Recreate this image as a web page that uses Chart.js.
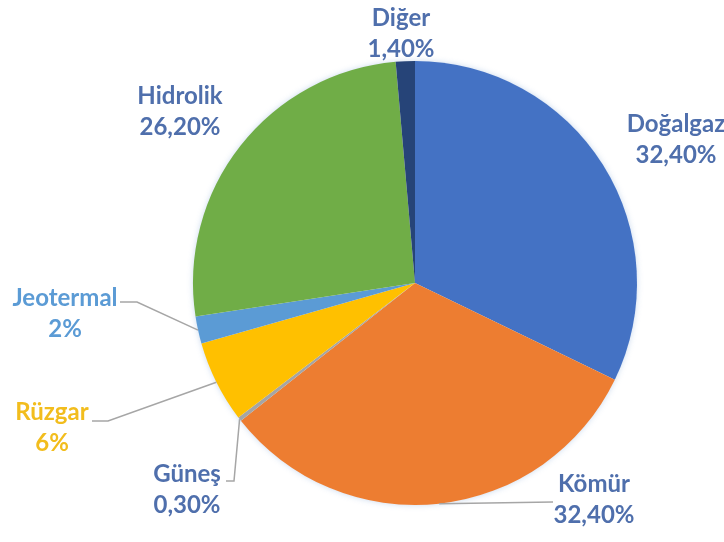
<!DOCTYPE html>
<html>
<head>
<meta charset="utf-8">
<script src="https://cdn.jsdelivr.net/npm/chart.js@4.4.1/dist/chart.umd.min.js"></script>
<style>
  html, body { margin: 0; padding: 0; background: #ffffff; }
  #wrap { width: 724px; height: 542px; position: relative; }
</style>
</head>
<body>
<div id="wrap"><canvas id="chart"></canvas></div>
<script>
// Elektrik üretiminde kaynak payları (%)
const kaynaklar = ['Doğalgaz', 'Kömür', 'Güneş', 'Rüzgar', 'Jeotermal', 'Hidrolik', 'Diğer'];
const paylar = [32.4, 32.4, 0.3, 6, 2, 26.2, 1.4];
const etiketler = ['32,40%', '32,40%', '0,30%', '6%', '2%', '26,20%', '1,40%'];
const renkler = ['#4472C4', '#ED7D31', '#A5A5A5', '#FFC000', '#5B9BD5', '#70AD47', '#264478'];

// etiket yerleşimi: metin merkezi, yazı rengi, kılavuz çizgisi kırılma noktası
const etiketAyar = [
  { x: 676, y: 124, renk: '#4F6FAC' },
  { x: 594, y: 484, renk: '#4F6FAC', cizgi: [553, 502] },
  { x: 187, y: 474, renk: '#4F6FAC', cizgi: [226, 481], dirsek: [234, 481] },
  { x: 52, y: 412, renk: '#F2BD1D', cizgi: [92, 421], dirsek: [108, 421] },
  { x: 65, y: 298, renk: '#5B9BD5', cizgi: [120, 302], dirsek: [137, 302] },
  { x: 180, y: 96, renk: '#4F6FAC' },
  { x: 401, y: 18, renk: '#4F6FAC' }
];
const satirAraligi = 31;

const golgePlugin = {
  id: 'golge',
  beforeDatasetsDraw(chart) {
    const arc = chart.getDatasetMeta(0).data[0];
    if (!arc) return;
    const ctx = chart.ctx;
    ctx.save();
    ctx.shadowColor = 'rgba(120,160,210,0.45)';
    ctx.shadowBlur = 6;
    ctx.fillStyle = '#ffffff';
    ctx.beginPath();
    ctx.arc(arc.x, arc.y, arc.outerRadius - 0.5, 0, Math.PI * 2);
    ctx.fill();
    ctx.restore();
  }
};

const etiketPlugin = {
  id: 'etiketler',
  afterDatasetsDraw(chart) {
    const ctx = chart.ctx;
    const meta = chart.getDatasetMeta(0);
    ctx.save();
    meta.data.forEach((arc, i) => {
      const ayar = etiketAyar[i];
      if (ayar.cizgi) {
        const orta = (arc.startAngle + arc.endAngle) / 2;
        const ux = arc.x + Math.cos(orta) * arc.outerRadius;
        const uy = arc.y + Math.sin(orta) * arc.outerRadius;
        ctx.strokeStyle = '#A6A6A6';
        ctx.lineWidth = 1.5;
        ctx.beginPath();
        ctx.moveTo(ayar.cizgi[0], ayar.cizgi[1]);
        if (ayar.dirsek) ctx.lineTo(ayar.dirsek[0], ayar.dirsek[1]);
        ctx.lineTo(ux, uy);
        ctx.stroke();
      }
      ctx.fillStyle = ayar.renk;
      ctx.font = 'bold 24px Lato, "Open Sans", sans-serif';
      ctx.textAlign = 'center';
      ctx.textBaseline = 'middle';
      ctx.fillText(kaynaklar[i], ayar.x, ayar.y);
      ctx.fillText(etiketler[i], ayar.x, ayar.y + satirAraligi);
    });
    ctx.restore();
  }
};

new Chart(document.getElementById('chart'), {
  type: 'pie',
  data: {
    labels: kaynaklar,
    datasets: [{
      data: paylar,
      backgroundColor: renkler,
      borderWidth: 0,
      hoverOffset: 0,
      offset: 0
    }]
  },
  options: {
    responsive: true,
    maintainAspectRatio: false,
    animation: false,
    events: [],
    layout: { padding: { top: 61, bottom: 37, left: 193, right: 87 } },
    plugins: {
      legend: { display: false },
      tooltip: { enabled: false }
    }
  },
  plugins: [golgePlugin, etiketPlugin]
});
</script>
</body>
</html>
